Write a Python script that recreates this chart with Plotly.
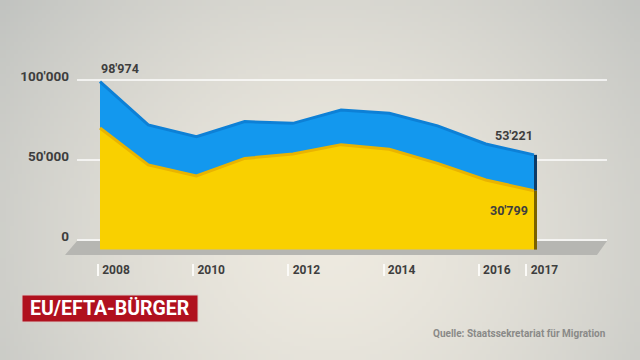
import base64, struct, zlib
import numpy as np
import plotly.graph_objects as go

# ---------------- data ----------------
years = [2008, 2009, 2010, 2011, 2012, 2013, 2014, 2015, 2016, 2017]
total = [98974, 71900, 64600, 74000, 72900, 81200, 79200, 71300, 60000, 53221]
yellow = [70000, 46900, 40000, 51000, 53700, 59600, 56700, 47900, 37500, 30799]
y_tick_vals = [0, 50000, 100000]
y_tick_text = ["0", "50'000", "100'000"]
x_tick_vals = [2008, 2010, 2012, 2014, 2016, 2017]
x_tick_text = ["2008", "2010", "2012", "2014", "2016", "2017"]
label_first = "98'974"
label_last_total = "53'221"
label_last_yellow = "30'799"
title_text = "EU/EFTA-BÜRGER"
source_text = "Quelle: Staatssekretariat für Migration"

# ---------------- styles ----------------
W, H = 640, 360
BASE = -6000  # front-face baseline (3D look)
FONT = "Roboto, Liberation Sans, sans-serif"
BLUE = "#1398ee"
BLUE_DARK = "#0d80d6"
BLUE_SIDE = "#0c3a66"
YEL = "#f9d000"
YEL_DARK = "#e9b400"
YEL_SIDE = "#7a6200"
TXT = "#3e3e3e"


def px(x):
    return x / W


def py(y):
    return 1 - y / H


# background gradient image
def gradient_uri():
    w, h = 160, 90
    xs = (np.arange(w) + 0.5) * W / w
    ys = (np.arange(h) + 0.5) * H / h
    X, Y = np.meshgrid(xs, ys)
    d = np.sqrt(((X - 330) / 420) ** 2 + ((Y - 240) / 390) ** 2)
    t = np.clip(d, 0, 1) ** 1.5
    c0 = np.array([238, 234, 224], float)
    c1 = np.array([193, 195, 192], float)
    img = (c0[None, None, :] * (1 - t[..., None]) + c1[None, None, :] * t[..., None]).astype(np.uint8)
    raw = b"".join(b"\x00" + img[r].tobytes() for r in range(h))

    def chunk(tag, data):
        c = struct.pack(">I", len(data)) + tag + data
        return c + struct.pack(">I", zlib.crc32(tag + data) & 0xFFFFFFFF)

    png = b"\x89PNG\r\n\x1a\n" + chunk(b"IHDR", struct.pack(">IIBBBBB", w, h, 8, 2, 0, 0, 0)) \
        + chunk(b"IDAT", zlib.compress(raw, 9)) + chunk(b"IEND", b"")
    return "data:image/png;base64," + base64.b64encode(png).decode()


fig = go.Figure()

# baseline for front face
fig.add_trace(go.Scatter(x=years, y=[BASE] * len(years), mode="lines",
                         line=dict(width=0), hoverinfo="skip", showlegend=False))
fig.add_trace(go.Scatter(x=years, y=yellow, mode="lines", fill="tonexty",
                         fillcolor=YEL, line=dict(width=0), showlegend=False))
fig.add_trace(go.Scatter(x=years, y=total, mode="lines", fill="tonexty",
                         fillcolor=BLUE, line=dict(width=0), showlegend=False))
# darker top edges (3D effect)
fig.add_trace(go.Scatter(x=years, y=total, mode="lines",
                         line=dict(color=BLUE_DARK, width=3), showlegend=False))
fig.add_trace(go.Scatter(x=years, y=yellow, mode="lines",
                         line=dict(color=YEL_DARK, width=3), showlegend=False))

# invisible trace on secondary x-axis so it renders
fig.add_trace(go.Scatter(x=x_tick_vals, y=[None] * len(x_tick_vals), xaxis="x2",
                         mode="markers", showlegend=False, hoverinfo="skip"))

shapes = []
# floor slab
shapes.append(dict(type="path", xref="paper", yref="paper", layer="below",
                   path=f"M {px(77)} {py(241)} L {px(607)} {py(241)} L {px(597)} {py(255)} L {px(65)} {py(255)} Z",
                   fillcolor="#b6b6b2", line=dict(width=0)))
# gridlines
for v in y_tick_vals:
    shapes.append(dict(type="line", xref="paper", yref="y", layer="below",
                       x0=px(77), x1=px(607), y0=v, y1=v,
                       line=dict(color="rgba(255,255,255,0.95)", width=1.5)))
# right side faces
shapes.append(dict(type="rect", xref="x", yref="y", xsizemode="pixel", xanchor=years[-1],
                   x0=0, x1=3, y0=yellow[-1], y1=total[-1], fillcolor=BLUE_SIDE, line=dict(width=0)))
shapes.append(dict(type="rect", xref="x", yref="y", xsizemode="pixel", xanchor=years[-1],
                   x0=0, x1=3, y0=BASE, y1=yellow[-1], fillcolor=YEL_SIDE, line=dict(width=0)))
# red title box
shapes.append(dict(type="rect", xref="paper", yref="paper", x0=px(22), x1=px(198), y0=py(322), y1=py(295),
                   fillcolor="#b0111e", line=dict(color="#d9c9c6", width=1)))

annotations = [
    dict(x=years[0], y=total[0], xref="x", yref="y", text=label_first, showarrow=False,
         xanchor="left", yanchor="middle", xshift=-1, yshift=13,
         font=dict(family=FONT, size=12.5, color=TXT, weight="bold")),
    dict(x=years[-1], y=total[-1], xref="x", yref="y", text=label_last_total, showarrow=False,
         xanchor="right", yanchor="middle", xshift=1, yshift=19,
         font=dict(family=FONT, size=12.5, color=TXT, weight="bold")),
    dict(x=years[-1], y=yellow[-1], xref="x", yref="y", text=label_last_yellow, showarrow=False,
         xanchor="right", yanchor="middle", xshift=-4, yshift=-20,
         font=dict(family=FONT, size=12.5, color=TXT, weight="bold")),
    dict(x=px(110), y=py(308.5), xref="paper", yref="paper", text=title_text, showarrow=False,
         xanchor="center", yanchor="middle",
         font=dict(family=FONT, size=19.5, color="white", weight="bold")),
    dict(x=px(608), y=py(333), xref="paper", yref="paper", text=source_text, showarrow=False,
         xanchor="right", yanchor="middle",
         font=dict(family=FONT, size=10, color="#8a8a88", weight="bold")),
]

# x mapping for data: 2008 -> 100px, 2017 -> 534px
sx = (534 - 100) / (years[-1] - years[0])
x0 = years[0] - 100 / sx
x_range = [x0, x0 + W / sx]
# label axis: 2008 -> 98px, slope 47.6 px/yr
sx2 = 47.6
x20 = 2008 - 98 / sx2
x2_range = [x20, x20 + W / sx2]
# y mapping: 0 -> 240px, 50000 -> 160px
k = 80 / 50000
y_range = [-(H - 240) / k, 240 / k]

fig.update_layout(
    width=W, height=H,
    margin=dict(l=0, r=0, t=0, b=0),
    paper_bgcolor="#dcd9d1",
    plot_bgcolor="rgba(0,0,0,0)",
    images=[dict(source=gradient_uri(), xref="paper", yref="paper", x=0, y=1, sizex=1, sizey=1,
                 sizing="stretch", xanchor="left", yanchor="top", layer="below")],
    xaxis=dict(range=x_range, domain=[0, 1], visible=False, fixedrange=True),
    xaxis2=dict(range=x2_range, overlaying="x", anchor="free", position=py(263), side="bottom",
                showgrid=False, zeroline=False, showline=False,
                tickmode="array", tickvals=x_tick_vals, ticktext=x_tick_text,
                ticks="outside", ticklen=12, tickwidth=1.5, tickcolor="#fbfaf7",
                ticklabelshift=18, ticklabelstandoff=-16,
                tickfont=dict(family=FONT, size=12, color=TXT, weight="bold")),
    yaxis=dict(range=y_range, domain=[0, 1], anchor="free", position=px(69),
               showgrid=False, zeroline=False, showline=False, ticks="",
               tickmode="array", tickvals=y_tick_vals, ticktext=y_tick_text,
               ticklabelshift=-4,
               tickfont=dict(family=FONT, size=13.5, color=TXT, weight="bold")),
    shapes=shapes,
    annotations=annotations,
    showlegend=False,
)

fig.write_html("out.html", config={"displayModeBar": False},
               post_script="document.body.style.margin='0';")
